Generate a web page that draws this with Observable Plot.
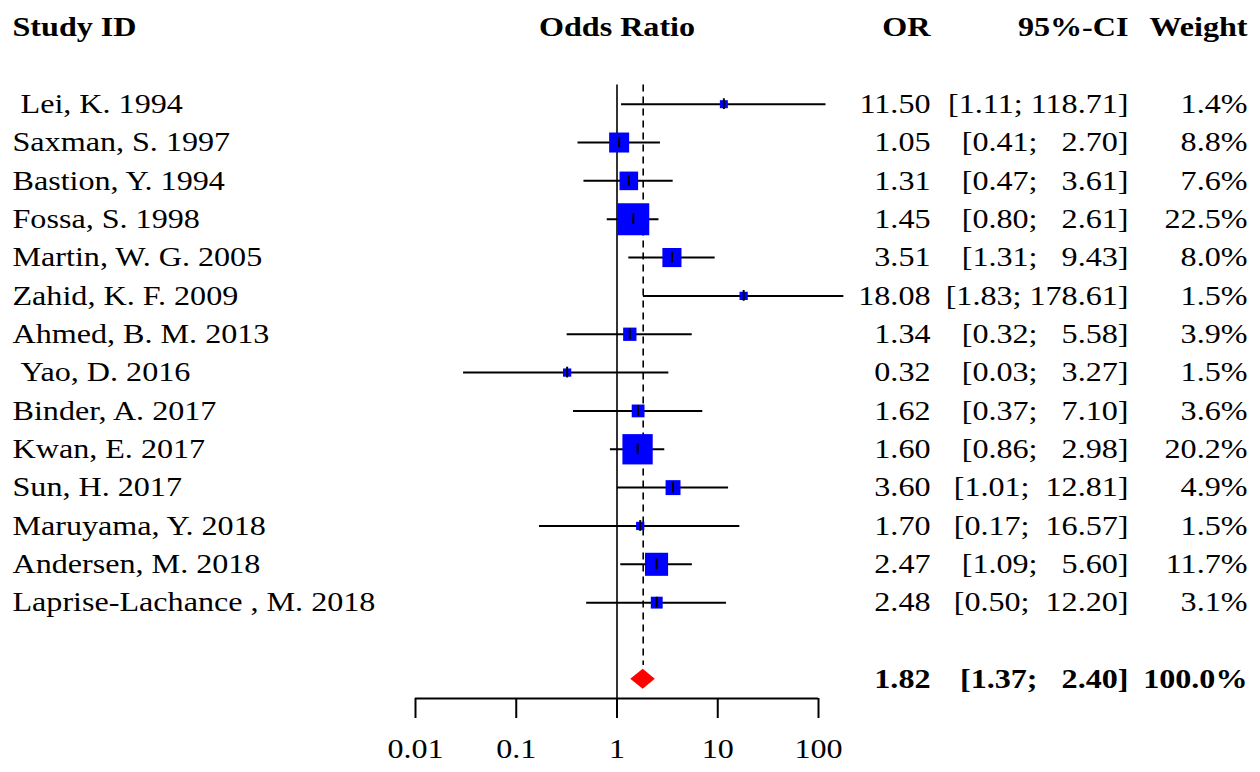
<!DOCTYPE html>
<html>
<head>
<meta charset="utf-8">
<script src="https://cdn.jsdelivr.net/npm/d3@7"></script>
<script src="https://cdn.jsdelivr.net/npm/@observablehq/plot@0.6"></script>
<style>
  html, body { margin: 0; padding: 0; background: #fff; }
  #chart { display: flex; width: 1260px; height: 772px; overflow: hidden; background: #fff; }
  #chart svg { display: block; flex: none; }
</style>
</head>
<body>
<div id="chart"></div>
<script>
// ---- data ----
const studies = ["\u00a0Lei, K. 1994", "Saxman, S. 1997", "Bastion, Y. 1994", "Fossa, S. 1998",
  "Martin, W. G. 2005", "Zahid, K. F. 2009", "Ahmed, B. M. 2013", "\u00a0Yao, D. 2016",
  "Binder, A. 2017", "Kwan, E. 2017", "Sun, H. 2017", "Maruyama, Y. 2018",
  "Andersen, M. 2018", "Laprise-Lachance , M. 2018"];
const oddsRatio = [11.50, 1.05, 1.31, 1.45, 3.51, 18.08, 1.34, 0.32, 1.62, 1.60, 3.60, 1.70, 2.47, 2.48];
const ciLower  = [1.11, 0.41, 0.47, 0.80, 1.31, 1.83, 0.32, 0.03, 0.37, 0.86, 1.01, 0.17, 1.09, 0.50];
const ciUpper  = [118.71, 2.70, 3.61, 2.61, 9.43, 178.61, 5.58, 3.27, 7.10, 2.98, 12.81, 16.57, 5.60, 12.20];
const weights  = [1.4, 8.8, 7.6, 22.5, 8.0, 1.5, 3.9, 1.5, 3.6, 20.2, 4.9, 1.5, 11.7, 3.1];
const pooledOR = 1.82, pooledLower = 1.37, pooledUpper = 2.40, pooledWeight = 100.0;
const xTicks = [0.01, 0.1, 1, 10, 100];
const xTickLabels = ["0.01", "0.1", "1", "10", "100"];
const headerStudy = "Study ID", headerPlot = "Odds Ratio", headerOR = "OR", headerCI = "95%-CI", headerWeight = "Weight";

// ---- tables built from the arrays ----
const rows = studies.map((s, i) => ({
  study: s, or: oddsRatio[i], lower: ciLower[i], upper: ciUpper[i], weight: weights[i], row: i + 1
}));
const headerRow = -1;
const summaryRow = studies.length + 2;
const summary = [{or: pooledOR, lower: pooledLower, upper: pooledUpper, weight: pooledWeight, row: summaryRow}];
const diamondHalf = 0.26;
const diamond = [
  {y: summaryRow - diamondHalf, x1: pooledOR, x2: pooledOR},
  {y: summaryRow, x1: pooledLower, x2: pooledUpper},
  {y: summaryRow + diamondHalf, x1: pooledOR, x2: pooledOR}
];
const axisRow = summaryRow + 0.5;

// ---- formatting ----
const f2 = d => d.toFixed(2);
const upWidth = d3.max(ciUpper, v => f2(v).length);
const ciText = d => "[" + f2(d.lower) + ";" + "\u00a0".repeat(1 + upWidth - f2(d.upper).length) + f2(d.upper) + "]";
const wText = d => d.weight.toFixed(1) + "%";

// ---- layout ----
const H = 772;
const FONT = '"Liberation Serif", "Times New Roman", Times, serif';
const FS = 27;
const yScale = {domain: [headerRow, axisRow], range: [27, 698], axis: null};
const baseStyle = {fontFamily: FONT, fontSize: FS + "px", color: "black", background: "transparent", overflow: "visible"};

// left: study labels
const left = Plot.plot({
  width: 390, height: H, margin: 0, y: yScale, style: baseStyle,
  marks: [
    Plot.text([{t: headerStudy, row: headerRow}], {text: "t", y: "row", frameAnchor: "left", dx: 12, textAnchor: "start", fontWeight: "bold", fontSize: FS}),
    Plot.text(rows, {text: "study", y: "row", frameAnchor: "left", dx: 12, textAnchor: "start", fontSize: FS})
  ]
});

// middle: forest plot
const mid = Plot.plot({
  width: 460, height: H, marginLeft: 0, marginRight: 0, marginTop: 0, marginBottom: H - 698,
  x: {type: "log", domain: [xTicks[0], xTicks[xTicks.length - 1]], range: [25, 428]},
  y: yScale,
  r: {type: "sqrt", domain: [0, 22.5], range: [0, 32 / Math.sqrt(Math.PI)]},
  style: baseStyle,
  marks: [
    Plot.text([{t: headerPlot, x: 1, row: headerRow}], {text: "t", x: "x", y: "row", fontWeight: "bold", fontSize: FS}),
    Plot.ruleX([{x: 1, y1: 0.5, y2: axisRow}], {x: "x", y1: "y1", y2: "y2", stroke: "black", strokeWidth: 1.6}),
    Plot.ruleX([{x: pooledOR, y1: 0.5, y2: summaryRow - 0.36}], {x: "x", y1: "y1", y2: "y2", stroke: "black", strokeWidth: 1.6, strokeDasharray: "7,5"}),
    Plot.ruleY(rows, {y: "row", x1: "lower", x2: "upper", stroke: "black", strokeWidth: 2}),
    Plot.dot(rows, {x: "or", y: "row", r: "weight", symbol: "square", fill: "#0000ff", stroke: "none"}),
    Plot.ruleX(rows, {x: "or", y1: d => d.row - 0.14, y2: d => d.row + 0.14, stroke: "black", strokeWidth: 2}),
    Plot.areaX(diamond, {y: "y", x1: "x1", x2: "x2", fill: "#ff0000", curve: "linear"}),
    Plot.ruleY([{y: axisRow, x1: xTicks[0], x2: xTicks[xTicks.length - 1]}], {y: "y", x1: "x1", x2: "x2", stroke: "black", strokeWidth: 2}),
    Plot.axisX({ticks: xTicks, tickFormat: d => xTickLabels[xTicks.indexOf(d)], tickSize: 20, tickPadding: 20, strokeWidth: 2, fontSize: FS, label: null})
  ]
});

// right: numeric columns
const colOR = 80, colCI = 278, colW = 397;
const right = Plot.plot({
  width: 410, height: H, margin: 0, y: yScale, style: baseStyle,
  marks: [
    Plot.text([{t: headerOR, row: headerRow}], {text: "t", y: "row", frameAnchor: "left", dx: colOR, textAnchor: "end", fontWeight: "bold", fontSize: FS}),
    Plot.text([{t: headerCI, row: headerRow}], {text: "t", y: "row", frameAnchor: "left", dx: colCI, textAnchor: "end", fontWeight: "bold", fontSize: FS}),
    Plot.text([{t: headerWeight, row: headerRow}], {text: "t", y: "row", frameAnchor: "left", dx: colW, textAnchor: "end", fontWeight: "bold", fontSize: FS}),
    Plot.text(rows, {text: d => f2(d.or), y: "row", frameAnchor: "left", dx: colOR, textAnchor: "end", fontSize: FS}),
    Plot.text(rows, {text: ciText, y: "row", frameAnchor: "left", dx: colCI, textAnchor: "end", fontSize: FS}),
    Plot.text(rows, {text: wText, y: "row", frameAnchor: "left", dx: colW, textAnchor: "end", fontSize: FS}),
    Plot.text(summary, {text: d => f2(d.or), y: "row", frameAnchor: "left", dx: colOR, textAnchor: "end", fontWeight: "bold", fontSize: FS}),
    Plot.text(summary, {text: ciText, y: "row", frameAnchor: "left", dx: colCI, textAnchor: "end", fontWeight: "bold", fontSize: FS}),
    Plot.text(summary, {text: wText, y: "row", frameAnchor: "left", dx: colW, textAnchor: "end", fontWeight: "bold", fontSize: FS})
  ]
});

const chart = document.getElementById("chart");
chart.append(left, mid, right);

// the reference typeface is horizontally wider than its height suggests: stretch text about its anchor
const SX = 1.19;
chart.querySelectorAll("text").forEach(t => {
  const tr = t.getAttribute("transform");
  if (tr) {
    t.setAttribute("transform", tr + ` scale(${SX},1)`);
  } else {
    const x = +(t.getAttribute("x") || 0), y = +(t.getAttribute("y") || 0);
    t.setAttribute("transform", `translate(${x},${y}) scale(${SX},1) translate(${-x},${-y})`);
  }
});
</script>
</body>
</html>
